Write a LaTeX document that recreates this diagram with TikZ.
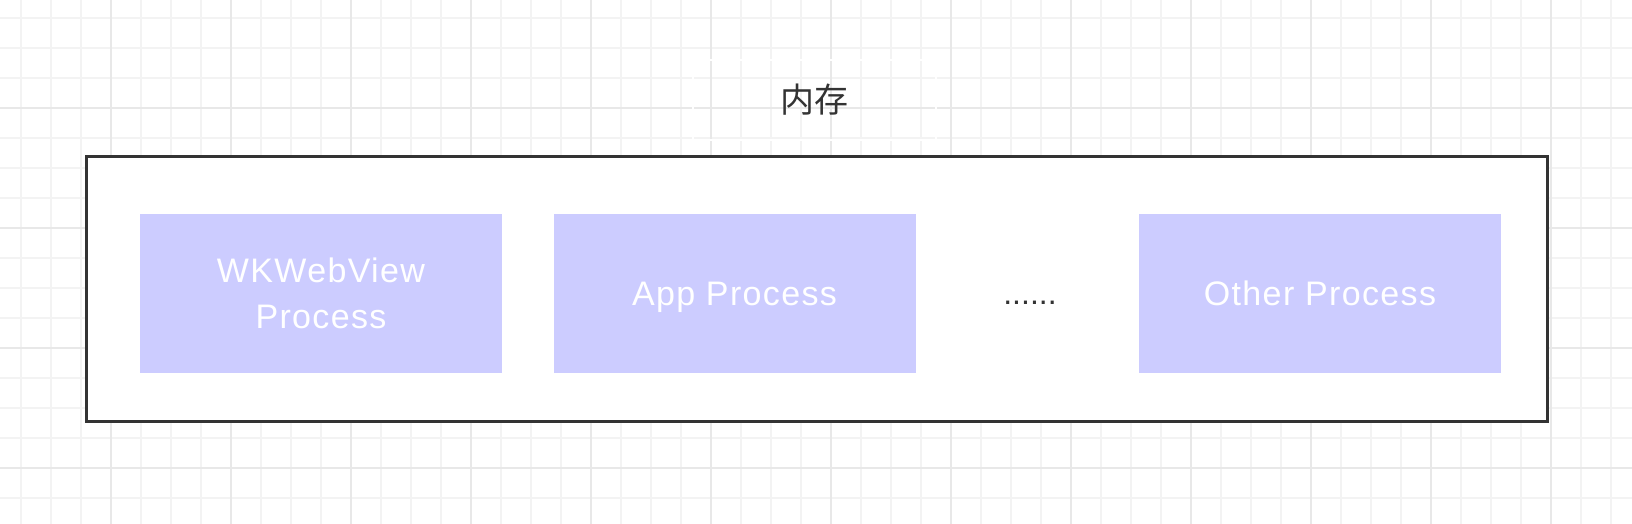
\documentclass[tikz,border=0pt]{standalone}
\usepackage{fontspec}
\setmainfont{Liberation Sans}
\newfontfamily\procfont[LetterSpace=4]{Liberation Sans}
\newfontfamily\cjkfont{Noto Sans CJK SC}
\usetikzlibrary{positioning}
\definecolor{gridminor}{RGB}{243, 243, 243}
\definecolor{gridmajor}{RGB}{232, 232, 232}
\definecolor{procfill}{RGB}{204, 204, 255}
\definecolor{darktext}{RGB}{51, 51, 51}

\begin{document}
\begin{tikzpicture}[x=0.5pt, y=-0.5pt,
  procbox/.style={fill=procfill, draw=none, minimum width=181pt, minimum height=79.5pt,
    align=center, text=white, font=\procfont\fontsize{17}{23}\selectfont},
  oneline/.style={text height=17pt, text depth=5.5pt},
  membox/.style={draw=darktext, line width=1.5pt, minimum width=730.5pt, minimum height=132.5pt},
  memlabel/.style={draw=white, line width=1pt, minimum width=121.5pt, minimum height=40pt,
    text=darktext, font=\cjkfont\fontsize{17}{20}\selectfont}]
  % background grid
  \fill[white] (0,0) rectangle (1632,524);
  \useasboundingbox (0,0) rectangle (1632,524);
  \foreach \x in {21,51,...,1632} \draw[gridminor, line width=0.6pt] (\x,0) -- (\x,524);
  \foreach \y in {18,48,...,524} \draw[gridminor, line width=0.6pt] (0,\y) -- (1632,\y);
  \foreach \x in {111,231,...,1632} \draw[gridmajor, line width=0.6pt] (\x,0) -- (\x,524);
  \foreach \y in {108,228,...,524} \draw[gridmajor, line width=0.6pt] (0,\y) -- (1632,\y);

  \node[memlabel] (label) at (814.5,100) {内存};
  \node[membox, fill=white] (memory) at (816.5,288.5) {};

  \node[procbox] (wkwebview) at (321,293.5) {WKWebView\\Process};
  \node[procbox, oneline] (app) at (734.5,293.5) {App Process};
  \node[procbox, oneline] (other) at (1320,293.5) {Other Process};
  \node[text=darktext, font=\fontsize{16}{20}\selectfont, anchor=base] (dots) at (1030,304) {......};
\end{tikzpicture}
\end{document}
